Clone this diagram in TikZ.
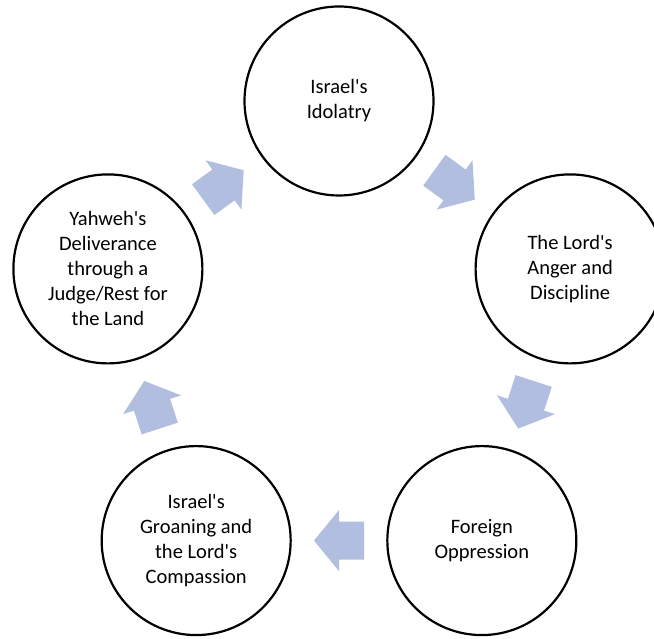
\documentclass[tikz,border=0pt]{standalone}
\usepackage{fontspec}
\setmainfont{Carlito}
\usetikzlibrary{calc}
\definecolor{arrowfill}{RGB}{177,190,224}
\newcommand{\aps}{\textquotesingle}
\tikzset{
  stage/.style={circle, draw=black, line width=2.2pt, minimum size=189pt, inner sep=0pt,
    align=center, font=\fontsize{20.5}{25}\selectfont, fill=white},
  cyclearrow/.style={fill=arrowfill, draw=none}
}
\newcommand{\cyclearrowshape}[3]{%
  \begin{scope}[shift={($(#1)!0.5!(#2)$)}, rotate=#3]
    \path[cyclearrow] (-25,-19) -- (0,-19) -- (0,-30.5) -- (25,0) -- (0,30.5) -- (0,19) -- (-25,19) -- cycle;
  \end{scope}}
\begin{document}
\begin{tikzpicture}[x=1pt,y=1pt]
  \useasboundingbox (0,0) rectangle (654,639);
  \clip (0,0) rectangle (654,639);
  \fill[white] (0,0) rectangle (654,639);
  \coordinate (c) at (339,295);
  \node[stage] (idol) at ($(c)+(90:243)$) {Israel\aps s\\Idolatry};
  \node[stage] (anger) at ($(c)+(18:243)$) {The Lord\aps s\\Anger and\\Discipline};
  \node[stage] (oppr) at ($(c)+(-54:243)$) {Foreign\\Oppression};
  \node[stage] (groan) at ($(c)+(-126:243)$) {Israel\aps s\\Groaning and\\the Lord\aps s\\Compassion};
  \node[stage] (deliv) at ($(c)+(162:243)$) {Yahweh\aps s\\Deliverance\\through a\\Judge/Rest for\\the Land};
  \cyclearrowshape{deliv}{idol}{36}
  \cyclearrowshape{idol}{anger}{-36}
  \cyclearrowshape{anger}{oppr}{-108}
  \cyclearrowshape{oppr}{groan}{180}
  \cyclearrowshape{groan}{deliv}{108}
\end{tikzpicture}
\end{document}
